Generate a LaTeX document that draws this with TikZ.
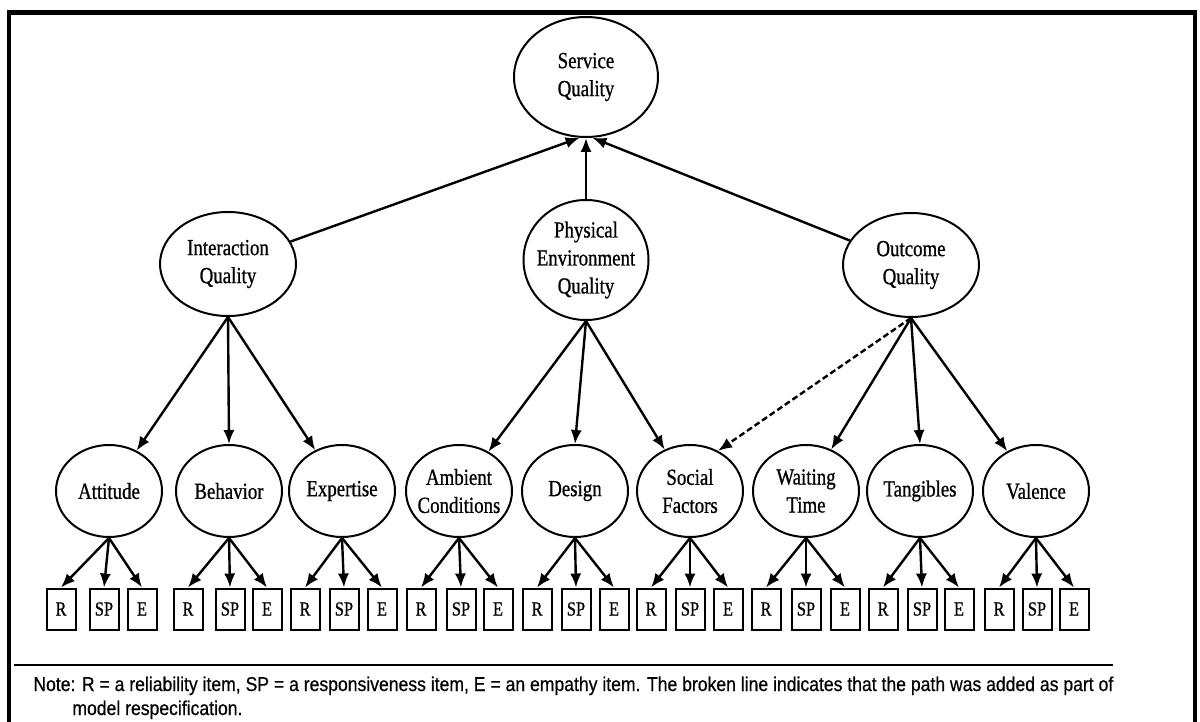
\documentclass[tikz,border=0pt]{standalone}
\usepackage{fontspec}
\usepackage{graphicx}
\usetikzlibrary{shapes.geometric,arrows.meta,calc}

\newfontfamily\labelfont[FakeStretch=0.82,FakeBold=0.8]{Liberation Serif}
\newfontfamily\notefont[FakeBold=0.6]{Liberation Sans}
\newsavebox\noteboxA
\newdimen\notewd

\tikzset{
  lat/.style={ellipse, draw, line width=1pt, inner sep=0pt},
  midlat/.style={lat, minimum width=68pt, minimum height=52pt},
  lowlat/.style={lat, minimum width=53pt, minimum height=46pt},
  lbl/.style={font=\labelfont\fontsize{11.5}{14}\selectfont, align=center, inner sep=0pt},
  ind/.style={rectangle, draw, line width=1pt, minimum width=14.5pt,
              minimum height=20.5pt, inner sep=0pt,
              font=\labelfont\fontsize{10}{12}\selectfont},
  pathar/.style={line width=1.2pt, -{Latex[length=7pt,width=5.6pt]}},
  addedpath/.style={pathar, dash pattern=on 3pt off 1.6pt},
}

\begin{document}
% first line of the note, measured so both lines share one horizontal scale
\sbox\noteboxA{\notefont\fontsize{10}{12}\selectfont Note: R = a reliability item, SP = a responsiveness item, E = an empathy item. The broken line indicates that the path was added as part of}%
\global\notewd=\wd\noteboxA
\begin{tikzpicture}[x=0.5pt,y=-0.5pt]
  \useasboundingbox (0,0) rectangle (1200,722);
  \clip (0,0) rectangle (1200,722);

  % outer frame (its lower edge runs off the page)
  \draw[line width=2.4pt] (9,12.5) rectangle (1195,760);

  % second-order factor
  \node[lat, minimum width=72pt, minimum height=60pt] (sq) at (586,77) {};
  \node[lbl] (sq-t) at (sq) {Service\\Quality};

  % primary dimensions
  \node[midlat] (iq) at (228,264) {};
  \node[lbl] (iq-t) at (iq) {Interaction\\Quality};
  \node[lat, minimum width=62.5pt, minimum height=60pt] (pe) at (586,260) {};
  \node[lbl] (pe-t) at (pe) {Physical\\Environment\\Quality};
  \node[midlat] (oq) at (911,265) {};
  \node[lbl] (oq-t) at (oq) {Outcome\\Quality};

  \draw[pathar] (iq) -- (sq.264);
  \draw[pathar] (pe.north) -- (sq.south);
  \draw[pathar] (oq) -- (sq.276);

  % subdimensions with their R / SP / E items
  \foreach \n/\cx/\txt/\r/\s/\e in {
      att/109/Attitude/61/104/142,
      beh/229/Behavior/188/230/267,
      exp/342/Expertise/305/344/382,
      amb/459/{Ambient\\Conditions}/421/461/498,
      des/575/Design/537/576/614,
      soc/690/{Social\\Factors}/651/690/728,
      wai/806/{Waiting\\Time}/766/806/845,
      tan/920/Tangibles/883/922/959,
      val/1036/Valence/999/1037/1074} {
    \node[lowlat] (\n) at (\cx,491) {};
    \node[lbl] (\n-t) at (\n) {\txt};
    \node[ind] (\n-r) at (\r,609) {R};
    \node[ind] (\n-s) at (\s,609) {SP};
    \node[ind] (\n-e) at (\e,609) {E};
    \draw[pathar] (\n.south) -- (\n-r.north);
    \draw[pathar] (\n.south) -- (\n-s.north);
    \draw[pathar] (\n.south) -- (\n-e.north);
  }

  \draw[pathar] (iq.south) -- (att);
  \draw[pathar] (iq.south) -- (beh.north);
  \draw[pathar] (iq.south) -- (exp);
  \draw[pathar] (pe.south) -- (amb);
  \draw[pathar] (pe.south) -- (des.north);
  \draw[pathar] (pe.south) -- (soc);
  \draw[pathar] (oq.south) -- (wai);
  \draw[pathar] (oq.south) -- (tan.north);
  \draw[pathar] (oq.south) -- (val);
  \draw[addedpath] (oq.south) -- (soc.55);

  % note below the rule
  \draw[line width=1.3pt] (14,665) -- (1113,665);
  \pgfmathsetmacro\notesx{540pt/\the\notewd}
  \node[anchor=base west, inner sep=0pt] (note1) at (33,691) {\scalebox{\notesx}[1]{\usebox\noteboxA}};
  \node[anchor=base west, inner sep=0pt] (note2) at (72,715)
    {\scalebox{\notesx}[1]{\notefont\fontsize{10}{12}\selectfont model respecification.}};
\end{tikzpicture}
\end{document}
